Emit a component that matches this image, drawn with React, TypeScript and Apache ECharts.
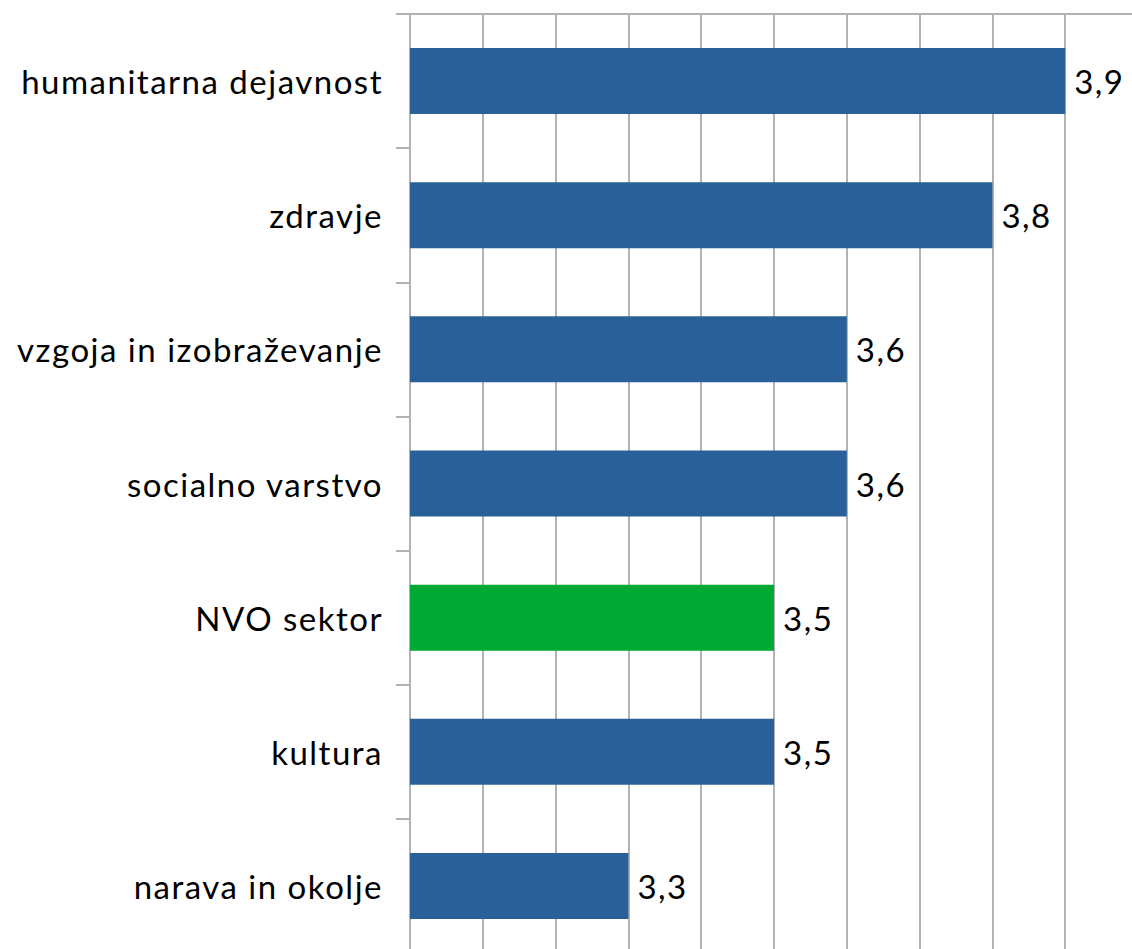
import React, { useEffect, useRef } from "react";
import * as echarts from "echarts";

const categories = [
  "humanitarna dejavnost",
  "zdravje",
  "vzgoja in izobraževanje",
  "socialno varstvo",
  "NVO sektor",
  "kultura",
  "narava in okolje",
];
const values = [3.9, 3.8, 3.6, 3.6, 3.5, 3.5, 3.3];
const highlight = "NVO sektor";
const blue = "#2a6099";
const green = "#00a933";

export default function App() {
  const ref = useRef<HTMLDivElement>(null);
  useEffect(() => {
    document.body.style.margin = "0";
    const chart = echarts.init(ref.current!, null, { renderer: "svg" });
    const rev = [...categories].reverse();
    const revVals = [...values].reverse();
    chart.setOption({
      animation: false,
      grid: { left: 410, right: 1145 - 1138, top: 14, bottom: 960 - 953, containLabel: false },
      xAxis: {
        type: "value",
        position: "top",
        min: 3.0,
        max: 4.0,
        interval: 0.1,
        axisLine: { show: true, lineStyle: { color: "#b3b3b3", width: 2 } },
        axisTick: { show: false },
        axisLabel: { show: false },
        splitLine: { show: true, lineStyle: { color: "#b3b3b3", width: 2 } },
      },
      yAxis: {
        type: "category",
        data: rev,
        axisLine: { show: true, lineStyle: { color: "#b3b3b3", width: 2 } },
        axisTick: { show: true, length: 14, lineStyle: { color: "#b3b3b3", width: 2 } },
        axisLabel: {
          margin: 27,
          fontFamily: "Lato",
          fontSize: 33,
          color: "#000000",
        },
        splitLine: { show: false },
      },
      series: [
        {
          type: "bar",
          barWidth: 66,
          data: revVals.map((v, i) => ({
            value: v,
            itemStyle: { color: rev[i] === highlight ? green : blue },
          })),
          label: {
            show: true,
            position: "right",
            distance: 9,
            fontFamily: "Lato",
            fontSize: 33,
            color: "#000000",
            formatter: (p: any) => String(p.value).replace(".", ","),
          },
        },
      ],
    });
    return () => chart.dispose();
  }, []);
  return (
    <div style={{ width: 1132, height: 949, overflow: "hidden", background: "#fff" }}>
      <style>{"#root svg text { letter-spacing: 1.5px; }"}</style>
      <div ref={ref} style={{ width: 1145, height: 960 }} />
    </div>
  );
}
